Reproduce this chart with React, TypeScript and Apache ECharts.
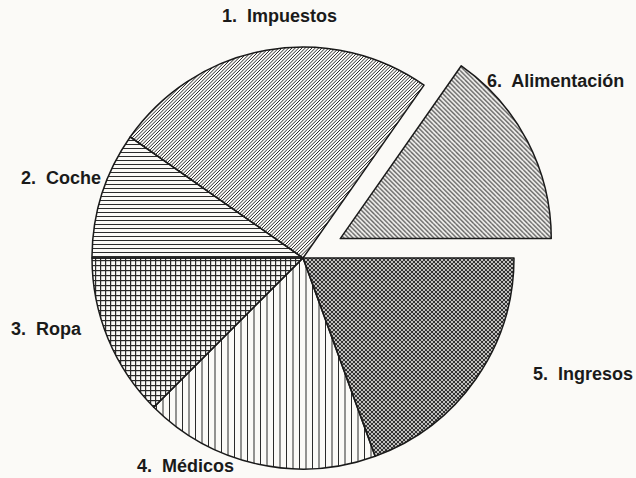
import React, { useEffect, useRef } from "react";
import * as echarts from "echarts";

const categories = ["6.  Alimentación", "1.  Impuestos", "2.  Coche", "3.  Ropa", "4.  Médicos", "5.  Ingresos"];
const values = [55, 90, 35, 45, 65, 70];
const exploded = [true, false, false, false, false, false];
const labelPos = [
  [487, 81],
  [222, 16],
  [21, 178],
  [11, 329],
  [137, 466],
  [533, 374],
];

const INK = "#2b2b2b";

function tile(size: number, draw: (ctx: CanvasRenderingContext2D, s: number) => void) {
  const c = document.createElement("canvas");
  c.width = size;
  c.height = size;
  const ctx = c.getContext("2d")!;
  ctx.strokeStyle = INK;
  draw(ctx, size);
  return { image: c, repeat: "repeat", imageWidth: size, imageHeight: size } as any;
}

function diag(ctx: CanvasRenderingContext2D, s: number, n: number, dir: 1 | -1, lw: number) {
  ctx.lineWidth = lw;
  ctx.beginPath();
  const step = s / n;
  for (let k = -n; k <= n; k++) {
    const o = k * step;
    if (dir === 1) {
      ctx.moveTo(o, s);
      ctx.lineTo(o + s, 0);
    } else {
      ctx.moveTo(o, 0);
      ctx.lineTo(o + s, s);
    }
  }
  ctx.stroke();
}

function makePatterns() {
  const alim = tile(9, (ctx, s) => diag(ctx, s, 2, -1, 1.1));
  const imp = tile(10, (ctx, s) => diag(ctx, s, 3, 1, 1.0));
  const coche = tile(4, (ctx, s) => {
    ctx.fillStyle = INK;
    ctx.fillRect(0, 0, s, 1);
  });
  const ropa = tile(5, (ctx, s) => {
    ctx.fillStyle = INK;
    ctx.fillRect(0, 0, s, 1.2);
    ctx.fillRect(0, 0, 1.2, s);
  });
  const medicos = tile(13, (ctx, s) => {
    ctx.fillStyle = INK;
    ctx.fillRect(0, 0, 1, s);
    ctx.fillRect(6.5, 0, 1, s);
  });
  const ingresos = tile(4, (ctx, s) => {
    diag(ctx, s, 1, 1, 1.1);
    diag(ctx, s, 1, -1, 1.1);
  });
  return [alim, imp, coche, ropa, medicos, ingresos];
}

export default function App() {
  const ref = useRef<HTMLDivElement>(null);
  useEffect(() => {
    if (!ref.current) return;
    const chart = echarts.init(ref.current, null, { renderer: "svg" });
    const patterns = makePatterns();
    chart.setOption({
      animation: false,
      backgroundColor: "#fbfaf7",
      graphic: categories.map((name, i) => ({
        type: "text",
        x: labelPos[i][0],
        y: labelPos[i][1],
        style: {
          text: name,
          fill: "#1a1a1a",
          fontFamily: "Liberation Sans",
          fontWeight: "bold",
          fontSize: 18,
          textAlign: "left",
          textVerticalAlign: "middle",
        },
      })),
      series: [
        {
          type: "pie",
          center: [303, 258],
          radius: [0, 211],
          startAngle: 0,
          clockwise: false,
          selectedMode: "single",
          selectedOffset: 42,
          avoidLabelOverlap: false,
          emphasis: { disabled: true },
          itemStyle: { borderColor: "#1a1a1a", borderWidth: 1.5 },
          labelLine: { show: false },
          label: { show: false },
          data: categories.map((name, i) => ({
            name,
            value: values[i],
            selected: exploded[i],
            itemStyle: { color: patterns[i] },
          })),
        },
      ],
    });
    return () => chart.dispose();
  }, []);
  return (
    <div
      ref={ref}
      style={{ position: "fixed", left: 0, top: 0, width: 636, height: 478 }}
    />
  );
}
